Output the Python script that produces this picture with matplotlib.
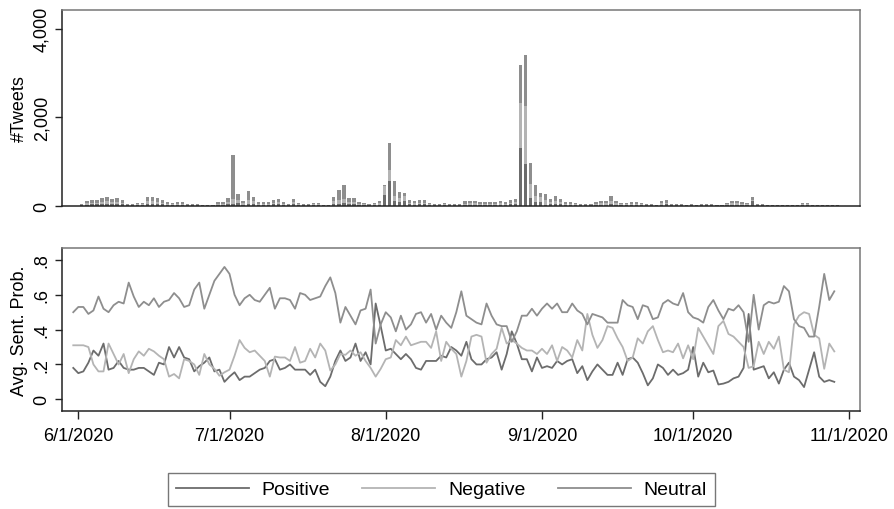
import matplotlib
matplotlib.use("Agg")
import matplotlib.pyplot as plt
import matplotlib.dates as mdates
import pandas as pd
import numpy as np

plt.rcParams['font.family'] = ['Liberation Sans', 'DejaVu Sans']

# ---- data: daily tweet counts split by sentiment (bars, 6/1 .. 10/29) ----
bar_days = pd.date_range('2020-06-01', periods=151)
pos_count = [9, 23, 27, 27, 36, 41, 32, 36, 27, 9,
             9, 14, 14, 41, 41, 33, 27, 18, 14, 18,
             18, 9, 9, 9, 5, 5, 5, 18, 18, 36,
             45, 54, 23, 40, 41, 15, 18, 18, 27, 32,
             18, 9, 32, 14, 9, 9, 14, 14, 5, 5,
             41, 45, 60, 36, 36, 18, 14, 9, 14, 23,
             248, 564, 113, 90, 105, 27, 23, 27, 27, 14,
             9, 9, 14, 9, 9,
             9, 20, 23, 23, 15, 18, 18, 18, 23, 18,
             27, 32, 1301, 944, 160, 76, 75, 23, 32, 45,
             32, 18, 18, 14, 9, 9, 9, 18, 23, 23,
             45, 23, 14, 14, 15, 18, 14, 9, 9, 5,
             23, 27, 9, 9, 9, 5, 9, 5, 9, 9,
             9, 5, 5, 14, 23, 23, 18, 14, 98, 9,
             9, 5, 5, 5, 5, 5, 5, 5, 14, 14,
             5, 5, 5, 5, 5, 5]
neg_count = [11, 28, 34, 34, 45, 51, 40, 45, 34, 11,
             11, 17, 17, 51, 51, 41, 34, 22, 17, 22,
             22, 11, 11, 11, 6, 6, 6, 22, 22, 45,
             113, 68, 28, 95, 51, 19, 22, 22, 34, 40,
             22, 11, 40, 17, 11, 11, 17, 17, 6, 6,
             51, 75, 90, 45, 45, 22, 17, 11, 17, 28,
             200, 248, 98, 83, 105, 34, 28, 34, 34, 17,
             11, 11, 17, 11, 11,
             11, 24, 28, 28, 19, 22, 22, 22, 28, 22,
             34, 40, 1020, 1301, 319, 137, 120, 98, 40, 56,
             40, 22, 22, 17, 11, 11, 11, 22, 28, 28,
             56, 28, 17, 17, 19, 22, 17, 11, 11, 6,
             28, 34, 11, 11, 11, 6, 11, 6, 11, 11,
             11, 6, 6, 17, 28, 28, 22, 17, 25, 11,
             11, 6, 6, 6, 6, 6, 6, 6, 17, 17,
             6, 6, 6, 6, 6, 6]
neu_count = [25, 62, 74, 74, 99, 111, 86, 99, 74, 25,
             25, 37, 37, 111, 111, 91, 74, 50, 37, 50,
             50, 25, 25, 25, 12, 12, 12, 50, 50, 99,
             992, 148, 62, 203, 111, 41, 50, 50, 74, 86,
             50, 25, 86, 37, 25, 25, 37, 37, 12, 12,
             111, 241, 324, 99, 99, 50, 37, 25, 37, 62,
             26, 609, 353, 143, 83, 74, 62, 74, 74, 37,
             25, 25, 37, 25, 25,
             25, 54, 62, 62, 41, 50, 50, 50, 62, 50,
             74, 86, 860, 1164, 484, 253, 98, 150, 86, 125,
             86, 50, 50, 37, 25, 25, 25, 50, 62, 62,
             125, 62, 37, 37, 41, 50, 37, 25, 25, 12,
             62, 74, 25, 25, 25, 12, 25, 12, 25, 25,
             25, 12, 12, 37, 62, 62, 50, 37, 80, 25,
             25, 12, 12, 12, 12, 12, 12, 12, 37, 37,
             12, 12, 12, 12, 12, 12]

# ---- data: average sentiment probability per day (5/31 .. 10/29) ----
line_days = pd.date_range('2020-05-31', periods=152)
positive = [.18, .15, .16, .21, .28, .25, .32, .17, .18, .22, .18, .17, .17, .18, .18, .16,
            .14, .21, .20, .30, .24, .30, .24, .23, .16, .19, .21, .24, .16, .17, .10,
            .13, .155, .11, .13, .13, .15, .17, .18, .22, .23, .17, .18, .20, .17, .17,
            .17, .14, .17, .10, .075, .13, .22, .28, .22, .24, .32, .22, .27, .20, .55,
            .42, .28, .29, .26, .23, .26, .23, .18, .17, .22, .22,
            .22, .25, .24, .30, .28, .25, .33, .23, .20, .20, .23, .24, .27, .17, .26,
            .39, .32, .23, .23, .16, .24, .18, .19, .18, .22, .20, .22, .23, .15, .19,
            .11, .16, .20, .17, .14, .14, .21, .14, .23, .24, .21, .15, .08,
            .12, .20, .18, .14, .17, .14, .15, .17, .30, .13, .21, .155, .165, .085,
            .09, .10, .12, .13, .18, .49, .17, .18, .19, .12, .155, .09, .17, .21,
            .13, .11, .07, .17, .27, .13, .10, .11, .10]
negative = [.31, .31, .31, .30, .20, .16, .16, .32, .26, .20, .26, .15, .23, .275, .25, .29,
            .275, .25, .23, .13, .145, .12, .23, .22, .20, .14, .26, .20, .175, .135, .155,
            .17, .25, .34, .295, .27, .28, .25, .22, .13, .245, .24, .24, .22, .30, .21,
            .22, .29, .24, .32, .28, .165, .20, .26, .255, .28, .25, .27, .22, .18, .13,
            .175, .23, .24, .34, .31, .36, .31, .32, .33, .33, .295,
            .39, .22, .33, .29, .26, .13, .22, .36, .37, .36, .21, .26, .29, .41, .32,
            .34, .32, .295, .28, .28, .26, .29, .26, .31, .22, .30, .28, .24, .34, .28,
            .49, .37, .295, .34, .42, .41, .35, .30, .22, .24, .35, .32, .39,
            .42, .34, .27, .28, .27, .32, .235, .31, .23, .41, .36, .31, .26, .42,
            .45, .375, .36, .33, .30, .18, .19, .33, .26, .33, .29, .36, .17, .155,
            .43, .48, .50, .49, .37, .35, .175, .32, .275]
neutral = [.50, .53, .53, .49, .51, .59, .52, .50, .54, .56, .55, .67, .59, .53, .56, .54,
           .58, .53, .56, .57, .61, .58, .53, .54, .63, .67, .52, .60, .68, .72, .76,
           .72, .60, .54, .58, .60, .57, .56, .60, .64, .52, .58, .58, .57, .52, .61,
           .60, .57, .58, .59, .65, .70, .61, .44, .53, .48, .43, .51, .52, .63, .32,
           .43, .50, .47, .39, .48, .40, .43, .49, .50, .44, .49,
           .40, .48, .44, .41, .50, .62, .48, .46, .44, .43, .55, .48, .43, .42, .42,
           .33, .39, .48, .48, .52, .48, .52, .55, .52, .55, .50, .50, .55, .51, .49,
           .43, .49, .48, .47, .44, .44, .44, .57, .54, .53, .46, .54, .53,
           .46, .47, .55, .57, .55, .54, .61, .50, .47, .46, .44, .53, .57, .51,
           .46, .52, .51, .54, .50, .33, .60, .40, .54, .56, .55, .56, .65, .62,
           .46, .42, .41, .36, .36, .53, .72, .57, .62]

month_ticks = pd.to_datetime(['2020-06-01', '2020-07-01', '2020-08-01',
                              '2020-09-01', '2020-10-01', '2020-11-01'])
month_labels = ['6/1/2020', '7/1/2020', '8/1/2020', '9/1/2020', '10/1/2020', '11/1/2020']

c_pos = '#6c6c6c'
c_neg = '#b4b4b4'
c_neu = '#8e8e8e'

fig = plt.figure(figsize=(8.95, 5.1), dpi=100)
ax1 = fig.add_axes([0.0693, 0.595, 0.8916, 0.3833])
ax2 = fig.add_axes([0.0693, 0.1916, 0.8916, 0.3196])

# top panel: stacked bars
bx = mdates.date2num(bar_days)
pos_a = np.array(pos_count)
neg_a = np.array(neg_count)
neu_a = np.array(neu_count)
ax1.bar(bx, pos_a, width=0.65, color=c_pos, linewidth=0)
ax1.bar(bx, neg_a, width=0.65, bottom=pos_a, color=c_neg, linewidth=0)
ax1.bar(bx, neu_a, width=0.65, bottom=pos_a + neg_a, color=c_neu, linewidth=0)

x0 = mdates.date2num(pd.Timestamp('2020-06-01'))
ax1.set_xlim(x0 - 3.23 - 0.7, x0 + 155.1 - 0.7)
ax1.set_ylim(0, 4420)
ax1.set_xticks([])
ax1.set_yticks([0, 2000, 4000])
ax1.set_yticklabels(['0', '2,000', '4,000'], rotation=90, va='center')
ax1.set_ylabel('#Tweets', fontsize=13, labelpad=4)

# bottom panel: average sentiment lines
lx = mdates.date2num(line_days)
h1, = ax2.plot(lx, positive, color=c_pos, lw=1.3, label='Positive')
h2, = ax2.plot(lx, negative, color=c_neg, lw=1.3, label='Negative')
h3, = ax2.plot(lx, neutral, color=c_neu, lw=1.3, label='Neutral')
ax2.set_xlim(x0 - 3.23, x0 + 155.1)
ax2.set_ylim(-0.069, 0.867)
ax2.set_xticks(mdates.date2num(month_ticks))
ax2.set_xticklabels(month_labels)
ax2.set_yticks([0, .2, .4, .6, .8])
ax2.set_yticklabels(['0', '.2', '.4', '.6', '.8'], rotation=90, va='center')
ax2.set_ylabel('Avg. Sent. Prob.', fontsize=13, labelpad=4)

for ax in (ax1, ax2):
    ax.tick_params(axis='both', labelsize=13, direction='out', length=5, width=1, color='#222')
    ax.spines['left'].set_color('#222')
    ax.spines['bottom'].set_color('#222')
    ax.spines['top'].set_color('#777')
    ax.spines['right'].set_color('#777')
    for s in ax.spines.values():
        s.set_linewidth(1.1)
ax2.tick_params(axis='x', length=6, pad=5)

leg = fig.legend([h1, h2, h3], ['Positive', 'Negative', 'Neutral'], loc='lower center',
                 bbox_to_anchor=(0.493, 0.0), ncol=3, fontsize=14, frameon=True,
                 fancybox=False, edgecolor='#555', handlelength=3.75, handletextpad=0.67,
                 columnspacing=1.65, borderpad=0.4, borderaxespad=0.15)
leg.get_frame().set_linewidth(1.0)

fig.savefig('out.png', dpi=100)
